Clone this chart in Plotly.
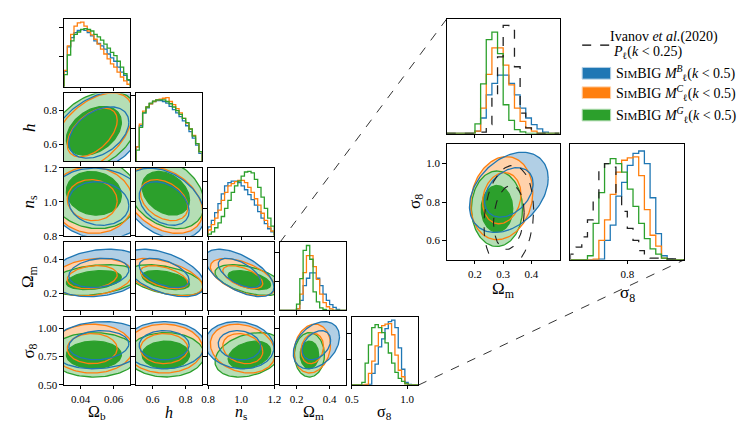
import numpy as np
import plotly.graph_objects as go

W, H = 748, 423

# ---------------- data ----------------
param_labels = ["Ω<sub>b</sub>", "<i>h</i>", "<i>n</i><sub>s</sub>", "Ω<sub>m</sub>", "σ<sub>8</sub>"]
param_ranges = [[0.03, 0.07], [0.5, 0.9], [0.8, 1.2], [0.1, 0.5], [0.5, 1.1]]
x_tickvals = [[0.04, 0.06], [0.6, 0.8], [0.8, 1.0, 1.2], [0.2, 0.4], [0.5, 1.0]]
x_ticktext = [["0.04", "0.06"], ["0.6", "0.8"], ["0.8", "1.0", "1.2"], ["0.2", "0.4"], ["0.5", "1.0"]]
y_tickvals = [[], [0.6, 0.8], [0.8, 1.0, 1.2], [0.2, 0.4], [0.5, 0.75, 1.0]]
y_ticktext = [[], ["0.6", "0.8"], ["0.8", "1.0", "1.2"], ["0.2", "0.4"], ["0.50", "0.75", "1.00"]]
n_bins = 20

series_names = ["B", "C", "G"]
series_colors = ["#1f77b4", "#ff7f0e", "#2ca02c"]
series_fills = ["#b1cfe5", "#ffd2ab", "#b5deb5"]

# posterior summaries: [Ob, h, ns, Om, s8]
mean_B = [0.051, 0.67, 0.99, 0.32, 0.85]
sd_B = [0.012, 0.10, 0.085, 0.057, 0.085]
mean_C = [0.047, 0.67, 1.01, 0.295, 0.82]
sd_C = [0.010, 0.095, 0.080, 0.045, 0.088]
mean_G = [0.048, 0.68, 1.05, 0.278, 0.765]
sd_G = [0.011, 0.095, 0.085, 0.037, 0.080]
# pair order: (Ob,h) (Ob,ns) (Ob,Om) (Ob,s8) (h,ns) (h,Om) (h,s8) (ns,Om) (ns,s8) (Om,s8)
corr_B = [0.40, -0.10, 0.20, 0.10, -0.35, -0.50, 0.00, -0.60, -0.10, 0.35]
corr_C = [0.50, -0.05, 0.20, 0.00, -0.35, -0.50, 0.00, -0.55, -0.20, 0.15]
corr_G = [0.35, -0.10, 0.30, 0.00, -0.30, -0.45, 0.00, -0.50, 0.30, 0.00]
# Ivanov et al. (2020), Om-s8
mean_K = [0.32, 0.72]
sd_K = [0.036, 0.11]
corr_K = 0.15
level_probs = [0.68, 0.95]

# 1D histograms (20 bins over each range)
hist_Ob_B = [47, 122, 150, 165, 172, 174, 172, 165, 155, 140, 132, 125, 115, 100, 88, 78, 60, 45, 35, 20]
hist_Ob_C = [50, 125, 160, 185, 195, 197, 185, 170, 158, 145, 130, 115, 100, 85, 70, 60, 45, 30, 18, 8]
hist_Ob_G = [37, 97, 140, 160, 167, 175, 177, 175, 170, 160, 152, 142, 130, 118, 105, 95, 78, 60, 40, 22]
hist_h_B = [45, 110, 150, 165, 178, 185, 188, 188, 185, 180, 170, 160, 150, 138, 125, 110, 92, 72, 50, 25]
hist_h_C = [45, 115, 155, 168, 178, 185, 190, 192, 195, 197, 185, 175, 163, 150, 133, 118, 100, 80, 55, 30]
hist_h_G = [35, 105, 150, 168, 180, 186, 190, 190, 190, 185, 178, 168, 157, 145, 133, 120, 100, 78, 55, 30]
hist_ns_B = [28, 48, 72, 100, 130, 155, 165, 170, 170, 165, 155, 143, 128, 112, 95, 75, 55, 38, 22, 12]
hist_ns_C = [18, 35, 55, 80, 110, 135, 155, 162, 168, 172, 172, 165, 150, 135, 115, 95, 70, 48, 28, 15]
hist_ns_G = [5, 12, 25, 40, 60, 85, 110, 135, 155, 170, 185, 198, 200, 195, 175, 150, 120, 85, 55, 30]
hist_Om_B = [0, 0, 0, 0, 0, 7, 47, 117, 152, 177, 177, 152, 117, 77, 47, 27, 14, 4, 0, 0]
hist_Om_C = [0, 0, 0, 0, 0, 7, 77, 179, 259, 259, 207, 147, 77, 37, 17, 7, 0, 0, 0, 0]
hist_Om_G = [0, 0, 0, 0, 0, 29, 150, 284, 307, 242, 87, 40, 12, 5, 0, 0, 0, 0, 0, 0]
hist_Om_K = [0, 0, 0, 0, 0, 0, 4, 27, 112, 232, 327, 312, 202, 62, 17, 4, 0, 0, 0, 0]
hist_s8_B = [0, 0, 0, 0, 0, 2, 57, 102, 187, 227, 277, 312, 319, 282, 182, 77, 12, 2, 0, 0]
hist_s8_C = [0, 0, 0, 0, 2, 57, 117, 192, 257, 292, 299, 302, 247, 147, 72, 40, 5, 0, 0, 0]
hist_s8_G = [0, 0, 0, 12, 107, 197, 282, 297, 282, 257, 207, 157, 107, 62, 32, 17, 5, 0, 0, 0]
hist_s8_K = [17, 37, 67, 117, 182, 267, 282, 272, 197, 142, 92, 57, 27, 12, 5, 5, 4, 3, 3, 2]
hist_ymax_main = [207, 210, 211, 322, 335]
hist_ticks_main = [[91, 182], [101, 202], [84, 168], [136, 272], [126, 252]]
hist_ymax_inset = [347, 339]

hists = [
    [hist_Ob_B, hist_Ob_C, hist_Ob_G],
    [hist_h_B, hist_h_C, hist_h_G],
    [hist_ns_B, hist_ns_C, hist_ns_G],
    [hist_Om_B, hist_Om_C, hist_Om_G],
    [hist_s8_B, hist_s8_C, hist_s8_G],
]
means = [mean_B, mean_C, mean_G]
sds = [sd_B, sd_C, sd_G]
corrs = [corr_B, corr_C, corr_G]
pair_list = [(0, 1), (0, 2), (0, 3), (0, 4), (1, 2), (1, 3), (1, 4), (2, 3), (2, 4), (3, 4)]

legend_labels = [
    "S<span style='font-size:11px'>IM</span>BIG <i>M</i><sup><i>B</i></sup><sub>ℓ</sub>(<i>k</i> &lt; 0.5)",
    "S<span style='font-size:11px'>IM</span>BIG <i>M</i><sup><i>C</i></sup><sub>ℓ</sub>(<i>k</i> &lt; 0.5)",
    "S<span style='font-size:11px'>IM</span>BIG <i>M</i><sup><i>G</i></sup><sub>ℓ</sub>(<i>k</i> &lt; 0.5)",
]

# ---------------- helpers ----------------
FONT = "Liberation Serif"
fig = go.Figure()
layout = {}
annotations = []
shapes = []
axis_counter = [0]


def px(x):
    return x / W


def py(y):
    return 1 - y / H


def new_axes(x0, y0, w, h, xr, yr, xtv, xtt, ytv, ytt, xlab, ylab):
    axis_counter[0] += 1
    k = axis_counter[0]
    sfx = "" if k == 1 else str(k)
    common = dict(showline=True, linecolor="black", linewidth=1.2, mirror=True,
                  ticks="outside", ticklen=3.5, tickwidth=1, tickcolor="black",
                  showgrid=False, zeroline=False,
                  tickfont=dict(family=FONT, size=11, color="black"))
    layout["xaxis" + sfx] = dict(common, domain=[px(x0), px(x0 + w)], anchor="y" + sfx,
                                 range=xr, tickmode="array", tickvals=xtv,
                                 ticktext=xtt if xlab else None, showticklabels=xlab)
    layout["yaxis" + sfx] = dict(common, domain=[py(y0 + h), py(y0)], anchor="x" + sfx,
                                 range=yr, tickmode="array", tickvals=ytv,
                                 ticktext=ytt if ylab else None, showticklabels=ylab)
    return "x" + sfx, "y" + sfx


def step_xy(edges, counts):
    xs = [edges[0]] + list(edges[:-1]) + [edges[-1]]
    ys = [0] + list(counts) + [0]
    return xs, ys


def ellipse(mx, my, sx, sy, rho, prob, n=140):
    r = np.sqrt(-2 * np.log(1 - prob))
    t = np.linspace(0, 2 * np.pi, n)
    u, v = r * np.cos(t), r * np.sin(t)
    return mx + sx * u, my + sy * (rho * u + np.sqrt(1 - rho ** 2) * v)


def add_hist(xa, ya, edges, counts, color, dash="solid"):
    xs, ys = step_xy(edges, counts)
    fig.add_trace(go.Scatter(x=xs, y=ys, mode="lines", line=dict(color=color, width=1.3, dash=dash, shape="hv"),
                             xaxis=xa, yaxis=ya, showlegend=False, hoverinfo="skip"))


def add_2d(xa, ya, i, j, pair_idx):
    # fills
    for s in range(3):
        ex, ey = ellipse(means[s][j], means[s][i], sds[s][j], sds[s][i], corrs[s][pair_idx], level_probs[1])
        fig.add_trace(go.Scatter(x=ex, y=ey, mode="lines", fill="toself", fillcolor=series_fills[s],
                                 line=dict(width=0), xaxis=xa, yaxis=ya, showlegend=False, hoverinfo="skip"))
    ex, ey = ellipse(means[2][j], means[2][i], sds[2][j], sds[2][i], corrs[2][pair_idx], level_probs[0])
    fig.add_trace(go.Scatter(x=ex, y=ey, mode="lines", fill="toself", fillcolor=series_colors[2],
                             line=dict(width=0), xaxis=xa, yaxis=ya, showlegend=False, hoverinfo="skip"))
    # lines
    for s in [2, 1, 0]:
        for p in level_probs:
            ex, ey = ellipse(means[s][j], means[s][i], sds[s][j], sds[s][i], corrs[s][pair_idx], p)
            fig.add_trace(go.Scatter(x=ex, y=ey, mode="lines", line=dict(color=series_colors[s], width=1.3),
                                     xaxis=xa, yaxis=ya, showlegend=False, hoverinfo="skip"))


# ---------------- main corner ----------------
col_x0 = [50, 123.3, 196.7, 270, 343.3]
row_y0 = [5, 81.7, 158.3, 235, 311.7]
PW, PH = 67.5, 70

for i in range(5):
    for j in range(i + 1):
        if i == j:
            xa, ya = new_axes(col_x0[j], row_y0[i], PW, PH, param_ranges[j], [0, hist_ymax_main[j]],
                              x_tickvals[j], x_ticktext[j], hist_ticks_main[j], None, i == 4, False)
            edges = np.linspace(param_ranges[j][0], param_ranges[j][1], n_bins + 1)
            for s in range(3):
                add_hist(xa, ya, edges, hists[j][s], series_colors[s])
        else:
            xa, ya = new_axes(col_x0[j], row_y0[i], PW, PH, param_ranges[j], param_ranges[i],
                              x_tickvals[j], x_ticktext[j], y_tickvals[i], y_ticktext[i], i == 4, j == 0)
            add_2d(xa, ya, i, j, pair_list.index((j, i)))

for j in range(5):
    annotations.append(dict(text=param_labels[j], x=px(col_x0[j] + PW / 2), y=py(410.5), xref="paper", yref="paper",
                            showarrow=False, font=dict(family=FONT, size=16, color="black"),
                            xanchor="center", yanchor="middle"))
for i in range(1, 5):
    annotations.append(dict(text=param_labels[i], x=px(15), y=py(row_y0[i] + PH / 2), xref="paper", yref="paper",
                            showarrow=False, textangle=-90, font=dict(family=FONT, size=17, color="black"),
                            xanchor="center", yanchor="middle"))

# ---------------- inset ----------------
om_edges = np.linspace(param_ranges[3][0], param_ranges[3][1], n_bins + 1)
s8_edges = np.linspace(param_ranges[4][0], param_ranges[4][1], n_bins + 1)

xa, ya = new_axes(440, 5, 115, 118, param_ranges[3], [0, hist_ymax_inset[0]],
                  [0.2, 0.3, 0.4], None, [], None, False, False)
for s in range(3):
    add_hist(xa, ya, om_edges, hists[3][s], series_colors[s])
add_hist(xa, ya, om_edges, hist_Om_K, "#222222", dash="dash")

xa, ya = new_axes(440, 134, 115, 119, param_ranges[3], param_ranges[4],
                  [0.2, 0.3, 0.4], ["0.2", "0.3", "0.4"], [0.6, 0.8, 1.0], ["0.6", "0.8", "1.0"], True, True)
add_2d(xa, ya, 4, 3, pair_list.index((3, 4)))
for p in level_probs:
    ex, ey = ellipse(mean_K[0], mean_K[1], sd_K[0], sd_K[1], corr_K, p)
    fig.add_trace(go.Scatter(x=ex, y=ey, mode="lines", line=dict(color="#222222", width=1.1, dash="dash"),
                             xaxis=xa, yaxis=ya, showlegend=False, hoverinfo="skip"))

xa, ya = new_axes(566, 134, 116, 119, param_ranges[4], [0, hist_ymax_inset[1]],
                  [0.8], ["0.8"], [], None, True, False)
for s in range(3):
    add_hist(xa, ya, s8_edges, hists[4][s], series_colors[s])
add_hist(xa, ya, s8_edges, hist_s8_K, "#222222", dash="dash")

annotations.append(dict(text=param_labels[3], x=px(497.5), y=py(284), xref="paper", yref="paper",
                        showarrow=False, xanchor="center", yanchor="middle",
                        font=dict(family=FONT, size=17, color="black")))
annotations.append(dict(text=param_labels[4], x=px(624), y=py(288), xref="paper", yref="paper",
                        showarrow=False, xanchor="center", yanchor="middle",
                        font=dict(family=FONT, size=17, color="black")))
annotations.append(dict(text=param_labels[4], x=px(408), y=py(193), xref="paper", yref="paper",
                        showarrow=False, textangle=-90, font=dict(family=FONT, size=17, color="black")))

# connector lines
shapes.append(dict(type="line", xref="paper", yref="paper", x0=px(270), y0=py(235), x1=px(440), y1=py(5),
                   line=dict(color="black", width=0.8, dash="dash")))
shapes.append(dict(type="line", xref="paper", yref="paper", x0=px(411), y0=py(382), x1=px(682), y1=py(253),
                   line=dict(color="black", width=0.8, dash="dash")))

# ---------------- legend ----------------
shapes.append(dict(type="line", xref="paper", yref="paper", x0=px(578), y0=py(32), x1=px(607), y1=py(32),
                   line=dict(color="black", width=1.1, dash="dash")))
annotations.append(dict(text="Ivanov <i>et al.</i>(2020)", x=px(604), y=py(24), xref="paper", yref="paper",
                        showarrow=False, xanchor="left", yanchor="middle", align="left",
                        font=dict(family=FONT, size=14, color="black")))
annotations.append(dict(text="<i>P</i><sub>ℓ</sub>(<i>k</i> &lt; 0.25)", x=px(607), y=py(40), xref="paper",
                        yref="paper", showarrow=False, xanchor="left", yanchor="middle", align="left",
                        font=dict(family=FONT, size=14, color="black")))
leg_y = [61, 81, 104]
for s in range(3):
    shapes.append(dict(type="rect", xref="paper", yref="paper", x0=px(578), x1=px(607),
                       y0=py(leg_y[s] - 6), y1=py(leg_y[s] + 6), fillcolor=series_colors[s],
                       line=dict(color=series_fills[s], width=1)))
    annotations.append(dict(text=legend_labels[s], x=px(610), y=py(leg_y[s]), xref="paper", yref="paper",
                            showarrow=False, xanchor="left", yanchor="middle", align="left",
                            font=dict(family=FONT, size=14, color="black")))

fig.update_layout(**layout)
fig.update_layout(width=W, height=H, margin=dict(l=0, r=0, t=0, b=0), autosize=False,
                  paper_bgcolor="white", plot_bgcolor="white", showlegend=False,
                  annotations=annotations, shapes=shapes)
fig.write_html("out.html")
